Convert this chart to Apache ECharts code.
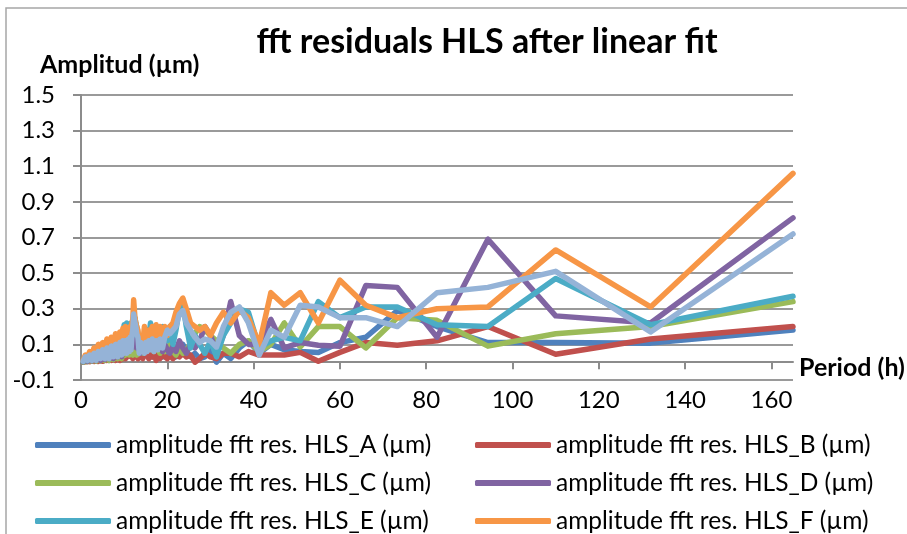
<!DOCTYPE html>
<html>
<head>
<meta charset="utf-8">
<script src="https://cdn.jsdelivr.net/npm/echarts@6/dist/echarts.min.js"></script>
<style>
  html, body { margin: 0; padding: 0; background: #fff; }
  #chart { width: 907px; height: 534px; }
</style>
</head>
<body>
<div id="chart"></div>
<script>
// periods (h) of the fft bins, shared by all series
const periods = [165, 132, 110, 94.3, 82.5, 73.3, 66, 60, 55, 50.8,
  47.1, 44, 41.3, 38.8, 36.7, 34.7, 33, 31.4, 30, 28.7,
  27.5, 26.4, 25.4, 24.4, 23.6, 22.8, 22, 21.3, 20.6, 20,
  19.4, 18.9, 18.3, 17.8, 17.4, 16.9, 16.5, 16.1, 15.7, 15.3,
  15, 14.7, 14.3, 14, 13.8, 13.5, 13.2, 12.9, 12.7, 12.5,
  12.2, 12, 11.8, 11.6, 11.4, 11.2, 11, 10.6, 10.3, 10,
  9.7, 9.4, 9, 8.5, 8, 7.5, 7, 6.5, 6, 5.5,
  5, 4.5, 4, 3.5, 3, 2.5, 2, 1.5, 1, 0.5]

const hlsA = [0.18, 0.107, 0.11, 0.11, 0.2, 0.29, 0.14, 0.11, 0.055, 0.06,
  0.07, 0.1, 0.05, 0.12, 0.08, 0.02, 0.05, 0.0, 0.08, 0.03,
  0.02, 0.05, 0.03, 0.06, 0.1, 0.04, 0.03, 0.06, 0.04, 0.05,
  0.06, 0.03, 0.07, 0.04, 0.08, 0.05, 0.03, 0.06, 0.04, 0.07,
  0.05, 0.08, 0.04, 0.06, 0.03, 0.05, 0.07, 0.09, 0.06, 0.1,
  0.08, 0.06, 0.09, 0.05, 0.07, 0.04, 0.08, 0.06, 0.05, 0.07,
  0.05, 0.02, 0.06, 0.02, 0.05, 0.015, 0.04, 0.01, 0.035, 0.01,
  0.03, 0.01, 0.025, 0.008, 0.02, 0.006, 0.015, 0.004, 0.01, 0.002]

const hlsB = [0.2, 0.13, 0.045, 0.2, 0.12, 0.095, 0.11, 0.055, 0.005, 0.055,
  0.04, 0.04, 0.04, 0.06, 0.03, 0.05, 0.05, 0.02, 0.03, 0.05,
  0.02, 0.0, 0.04, 0.03, 0.05, 0.03, 0.04, 0.02, 0.04, 0.02,
  0.03, 0.05, 0.02, 0.04, 0.01, 0.06, 0.03, 0.05, 0.02, 0.04,
  0.03, 0.05, 0.02, 0.06, 0.03, 0.04, 0.02, 0.05, 0.03, 0.07,
  0.04, 0.02, 0.05, 0.03, 0.04, 0.02, 0.04, 0.03, 0.02, 0.04,
  0.02, 0.03, 0.01, 0.03, 0.01, 0.02, 0.01, 0.02, 0.01, 0.015,
  0.005, 0.012, 0.004, 0.01, 0.004, 0.008, 0.003, 0.005, 0.002, 0.001]

const hlsC = [0.34, 0.2, 0.16, 0.09, 0.235, 0.25, 0.08, 0.2, 0.2, 0.085,
  0.22, 0.1, 0.06, 0.12, 0.1, 0.05, 0.08, 0.12, 0.15, 0.18,
  0.2, 0.16, 0.1, 0.07, 0.05, 0.08, 0.04, 0.06, 0.1, 0.08,
  0.06, 0.09, 0.05, 0.08, 0.1, 0.06, 0.08, 0.12, 0.07, 0.1,
  0.06, 0.08, 0.05, 0.07, 0.09, 0.05, 0.06, 0.04, 0.07, 0.05,
  0.06, 0.04, 0.08, 0.05, 0.07, 0.04, 0.06, 0.05, 0.04, 0.06,
  0.04, 0.02, 0.05, 0.02, 0.04, 0.015, 0.035, 0.01, 0.03, 0.01,
  0.025, 0.008, 0.02, 0.006, 0.015, 0.005, 0.01, 0.004, 0.005, 0.0]

const hlsD = [0.81, 0.22, 0.26, 0.69, 0.14, 0.42, 0.43, 0.09, 0.095, 0.11,
  0.08, 0.24, 0.1, 0.1, 0.15, 0.34, 0.15, 0.06, 0.15, 0.2,
  0.12, 0.08, 0.1, 0.05, 0.08, 0.12, 0.06, 0.09, 0.05, 0.07,
  0.1, 0.06, 0.12, 0.08, 0.14, 0.1, 0.07, 0.12, 0.09, 0.13,
  0.08, 0.1, 0.06, 0.08, 0.05, 0.07, 0.1, 0.08, 0.12, 0.1,
  0.14, 0.1, 0.08, 0.12, 0.09, 0.11, 0.13, 0.08, 0.1, 0.07,
  0.09, 0.03, 0.08, 0.03, 0.07, 0.02, 0.06, 0.02, 0.05, 0.015,
  0.04, 0.01, 0.035, 0.01, 0.03, 0.008, 0.02, 0.005, 0.01, 0.003]

const hlsE = [0.37, 0.21, 0.47, 0.2, 0.21, 0.31, 0.31, 0.25, 0.34, 0.12,
  0.14, 0.12, 0.08, 0.28, 0.3, 0.22, 0.15, 0.03, 0.12, 0.05,
  0.1, 0.15, 0.08, 0.2, 0.33, 0.3, 0.18, 0.1, 0.2, 0.12,
  0.15, 0.2, 0.12, 0.18, 0.1, 0.2, 0.15, 0.22, 0.12, 0.18,
  0.12, 0.16, 0.08, 0.1, 0.14, 0.1, 0.16, 0.2, 0.22, 0.25,
  0.2, 0.15, 0.18, 0.22, 0.15, 0.18, 0.2, 0.22, 0.16, 0.21,
  0.2, 0.06, 0.16, 0.05, 0.14, 0.04, 0.12, 0.04, 0.1, 0.03,
  0.09, 0.03, 0.07, 0.02, 0.06, 0.02, 0.04, 0.01, 0.03, 0.005]

const hlsF = [1.06, 0.31, 0.63, 0.31, 0.3, 0.25, 0.32, 0.46, 0.22, 0.39,
  0.32, 0.39, 0.1, 0.25, 0.29, 0.22, 0.28, 0.22, 0.15, 0.2,
  0.18, 0.2, 0.22, 0.3, 0.36, 0.33, 0.28, 0.22, 0.2, 0.15,
  0.2, 0.12, 0.2, 0.13, 0.21, 0.12, 0.2, 0.14, 0.18, 0.12,
  0.16, 0.2, 0.1, 0.12, 0.15, 0.1, 0.18, 0.2, 0.22, 0.25,
  0.35, 0.24, 0.22, 0.14, 0.2, 0.12, 0.19, 0.12, 0.2, 0.1,
  0.19, 0.08, 0.17, 0.07, 0.16, 0.06, 0.14, 0.05, 0.13, 0.05,
  0.11, 0.04, 0.1, 0.03, 0.08, 0.03, 0.06, 0.02, 0.04, 0.01]

const hlsG = [0.72, 0.17, 0.51, 0.42, 0.39, 0.2, 0.25, 0.25, 0.31, 0.32,
  0.14, 0.18, 0.04, 0.22, 0.31, 0.28, 0.2, 0.085, 0.12, 0.13,
  0.11, 0.14, 0.18, 0.22, 0.29, 0.27, 0.2, 0.18, 0.16, 0.18,
  0.14, 0.08, 0.13, 0.07, 0.12, 0.06, 0.13, 0.07, 0.12, 0.06,
  0.11, 0.05, 0.1, 0.06, 0.11, 0.05, 0.14, 0.16, 0.2, 0.22,
  0.27, 0.18, 0.15, 0.07, 0.14, 0.06, 0.13, 0.05, 0.12, 0.05,
  0.12, 0.04, 0.11, 0.03, 0.1, 0.03, 0.09, 0.02, 0.08, 0.02,
  0.07, 0.02, 0.06, 0.01, 0.05, 0.01, 0.04, 0.01, 0.03, 0.005]

const names = [
  'amplitude fft res. HLS_A (µm)',
  'amplitude fft res. HLS_B (µm)',
  'amplitude fft res. HLS_C (µm)',
  'amplitude fft res. HLS_D (µm)',
  'amplitude fft res. HLS_E (µm)',
  'amplitude fft res. HLS_F (µm)',
  'amplitude fft res. HLS_G (µm)'
]
const colors = ['#4f81bd', '#c0504d', '#9bbb59', '#8064a2', '#4bacc6', '#f79646', '#95b3d7']
const values = [hlsA, hlsB, hlsC, hlsD, hlsE, hlsF, hlsG]

const font = 'Lato, "Liberation Sans", sans-serif'

const chart = echarts.init(document.getElementById('chart'), null, { renderer: 'canvas' })

// one legend per entry: 2 columns x 3 rows (HLS_G row falls below the picture)
function legendItem(i) {
  const col = i % 2
  const row = Math.floor(i / 2)
  return {
    left: col === 0 ? 30 : 470,
    top: 427 + row * 38,
    itemWidth: 76,
    itemHeight: 6,
    itemGap: 0,
    itemTextGap: 2,
    icon: 'roundRect',
    textStyle: { fontFamily: font, fontSize: 24.5, color: '#000', lineHeight: 26 },
    data: [names[i]]
  }
}

const option = {
  animation: false,
  backgroundColor: '#fff',
  color: colors,
  title: {
    text: 'fft residuals HLS after linear fit',
    left: 482,
    top: 20,
    textAlign: 'center',
    textStyle: { fontFamily: font, fontSize: 34, fontWeight: 'bold', color: '#000' }
  },
  graphic: [
    { type: 'rect', shape: { x: 6, y: 8, width: 1000, height: 1000 }, style: { fill: 'none', stroke: '#a6a6a6', lineWidth: 1.5 }, z: -1 },
    { type: 'text', left: 40, top: 52, style: { text: 'Amplitud (µm)', font: 'bold 25px ' + font, fill: '#000' } },
    { type: 'text', left: 799, top: 355, style: { text: 'Period (h)', font: 'bold 25px ' + font, fill: '#000' } }
  ],
  legend: [0, 1, 2, 3, 4, 5].map(legendItem),
  grid: { left: 81, right: 114, top: 95, bottom: 154, containLabel: false, outerBoundsMode: 'none' },
  xAxis: {
    type: 'value',
    min: 0,
    max: 165,
    interval: 20,
    axisLine: { onZero: true, lineStyle: { color: '#8c8c8c', width: 2 } },
    axisTick: { show: true, length: 7, lineStyle: { color: '#8c8c8c', width: 2 } },
    axisLabel: {
      margin: 8,
      fontFamily: font, fontSize: 24, color: '#000',
      showMaxLabel: false,
      formatter: v => (v % 20 === 0 ? String(v) : '')
    },
    splitLine: { show: false }
  },
  yAxis: {
    type: 'value',
    min: -0.1,
    max: 1.5,
    interval: 0.2,
    axisLine: { show: true, lineStyle: { color: '#8c8c8c', width: 2 } },
    axisTick: { show: true, length: 8, lineStyle: { color: '#8c8c8c', width: 2 } },
    axisLabel: {
      margin: 26,
      fontFamily: font, fontSize: 24, color: '#000',
      formatter: v => (Math.round(v * 10) / 10).toFixed(1)
    },
    splitLine: { show: true, lineStyle: { color: '#9a9a9a', width: 2 } }
  },
  series: values.map((vals, i) => ({
    name: names[i],
    type: 'line',
    showSymbol: false,
    symbol: 'none',
    z: 2 + i,
    lineStyle: { width: 5.5, color: colors[i], join: 'round', cap: 'round' },
    itemStyle: { color: colors[i] },
    data: periods.map((p, j) => [p, vals[j]])
  }))
}

chart.setOption(option)
</script>
</body>
</html>
